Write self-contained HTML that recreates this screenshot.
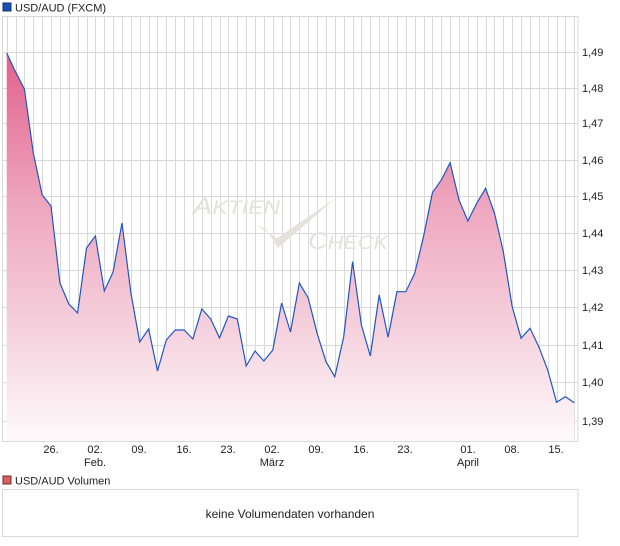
<!DOCTYPE html>
<html><head><meta charset="utf-8"><style>
html,body{margin:0;padding:0;background:#fff;}
svg{display:block;font-family:"Liberation Sans",sans-serif;}
</style></head><body>
<svg width="620" height="546" viewBox="0 0 620 546" xmlns="http://www.w3.org/2000/svg">
<defs>
<linearGradient id="g" x1="0" y1="50" x2="0" y2="441" gradientUnits="userSpaceOnUse">
<stop offset="0" stop-color="#e2608c"/>
<stop offset="0.4" stop-color="#eea7bf"/>
<stop offset="0.75" stop-color="#f6d6e1"/>
<stop offset="1" stop-color="#fefafb"/>
</linearGradient>
</defs>
<rect x="3" y="3" width="8" height="8" fill="#1a4fb8" stroke="#10306e" stroke-width="1"/>
<text x="15" y="11.5" font-size="11" fill="#222">USD/AUD (FXCM)</text>
<g id="grid" stroke="#d9d9d9" stroke-width="1"></g>
<rect x="2.5" y="16.5" width="575.5" height="425" fill="none" stroke="#d9d9d9"/>
<path id="area" fill="url(#g)"/>
<polyline id="line" fill="none" stroke="#1f55c8" stroke-width="1.2"/>
<g fill="#e6e1da" font-style="italic">
<text x="193" y="214" font-size="24" textLength="87" lengthAdjust="spacingAndGlyphs">A<tspan font-size="19">KTIEN</tspan></text>
<text x="308" y="249" font-size="24" textLength="80" lengthAdjust="spacingAndGlyphs">C<tspan font-size="19">HECK</tspan></text>
</g>
<path d="M256 225 L266 229 L278 248 L336 198 L277 238 Z" fill="#e6e1da"/>
<g font-size="11" fill="#222">
<text x="582" y="56">1,49</text><text x="582" y="92">1,48</text><text x="582" y="127">1,47</text>
<text x="582" y="164">1,46</text><text x="582" y="200">1,45</text><text x="582" y="237">1,44</text>
<text x="582" y="274">1,43</text><text x="582" y="311">1,42</text><text x="582" y="349">1,41</text>
<text x="582" y="386">1,40</text><text x="582" y="425">1,39</text>
</g>
<g font-size="11" fill="#222" text-anchor="middle">
<text x="51" y="453">26.</text><text x="95" y="453">02.</text><text x="139" y="453">09.</text>
<text x="184" y="453">16.</text><text x="228" y="453">23.</text><text x="272" y="453">02.</text>
<text x="316" y="453">09.</text><text x="361" y="453">16.</text><text x="405" y="453">23.</text>
<text x="468" y="453">01.</text><text x="512" y="453">08.</text><text x="556" y="453">15.</text>
<text x="95" y="466">Feb.</text><text x="272" y="466">März</text><text x="468" y="466">April</text>
</g>
<rect x="3" y="476" width="8" height="8" fill="#d86060" stroke="#7a2a2a" stroke-width="1"/>
<text x="15" y="484.5" font-size="11" fill="#222">USD/AUD Volumen</text>
<rect x="2.5" y="489.5" width="575.5" height="47" fill="#fff" stroke="#d9d9d9"/>
<text x="290" y="518" font-size="12" fill="#222" text-anchor="middle">keine Volumendaten vorhanden</text>
</svg>
<script>
var ys=[53,72,89,153,195,206,283,304,313,248,236,291,272,223,293,342,329,371,340,330,330,339,309,319,338,316,319,366,351,361,350,303,332,283,298,333.3,361.7,376.7,336.7,261.7,325,356,295,337.3,291.7,291.7,273.3,236.7,192.7,180,162.7,200,221,203.3,188.3,213.3,251.7,306.7,338.3,328.3,346.7,370,402.3,396.7,402.7];
var x0=6.7,dx=(574.3-6.7)/(ys.length-1);
var pts=ys.map(function(y,i){return (x0+i*dx).toFixed(1)+","+y;});
document.getElementById("line").setAttribute("points",pts.join(" "));
document.getElementById("area").setAttribute("d","M"+pts.join(" L")+" L574.3,441 L6.7,441 Z");
var g=document.getElementById("grid"),s="";
for(var i=0;i<ys.length+1;i++){var x=Math.round(x0+i*dx)+0.5;if(x<578)s+='<line x1="'+x+'" y1="17" x2="'+x+'" y2="441"/>';}
[52,88,123,160,196,233,270,307,345,382,421].forEach(function(y){s+='<line x1="3" y1="'+(y+0.5)+'" x2="578" y2="'+(y+0.5)+'"/>';});
g.innerHTML=s;
</script>
</body></html>
